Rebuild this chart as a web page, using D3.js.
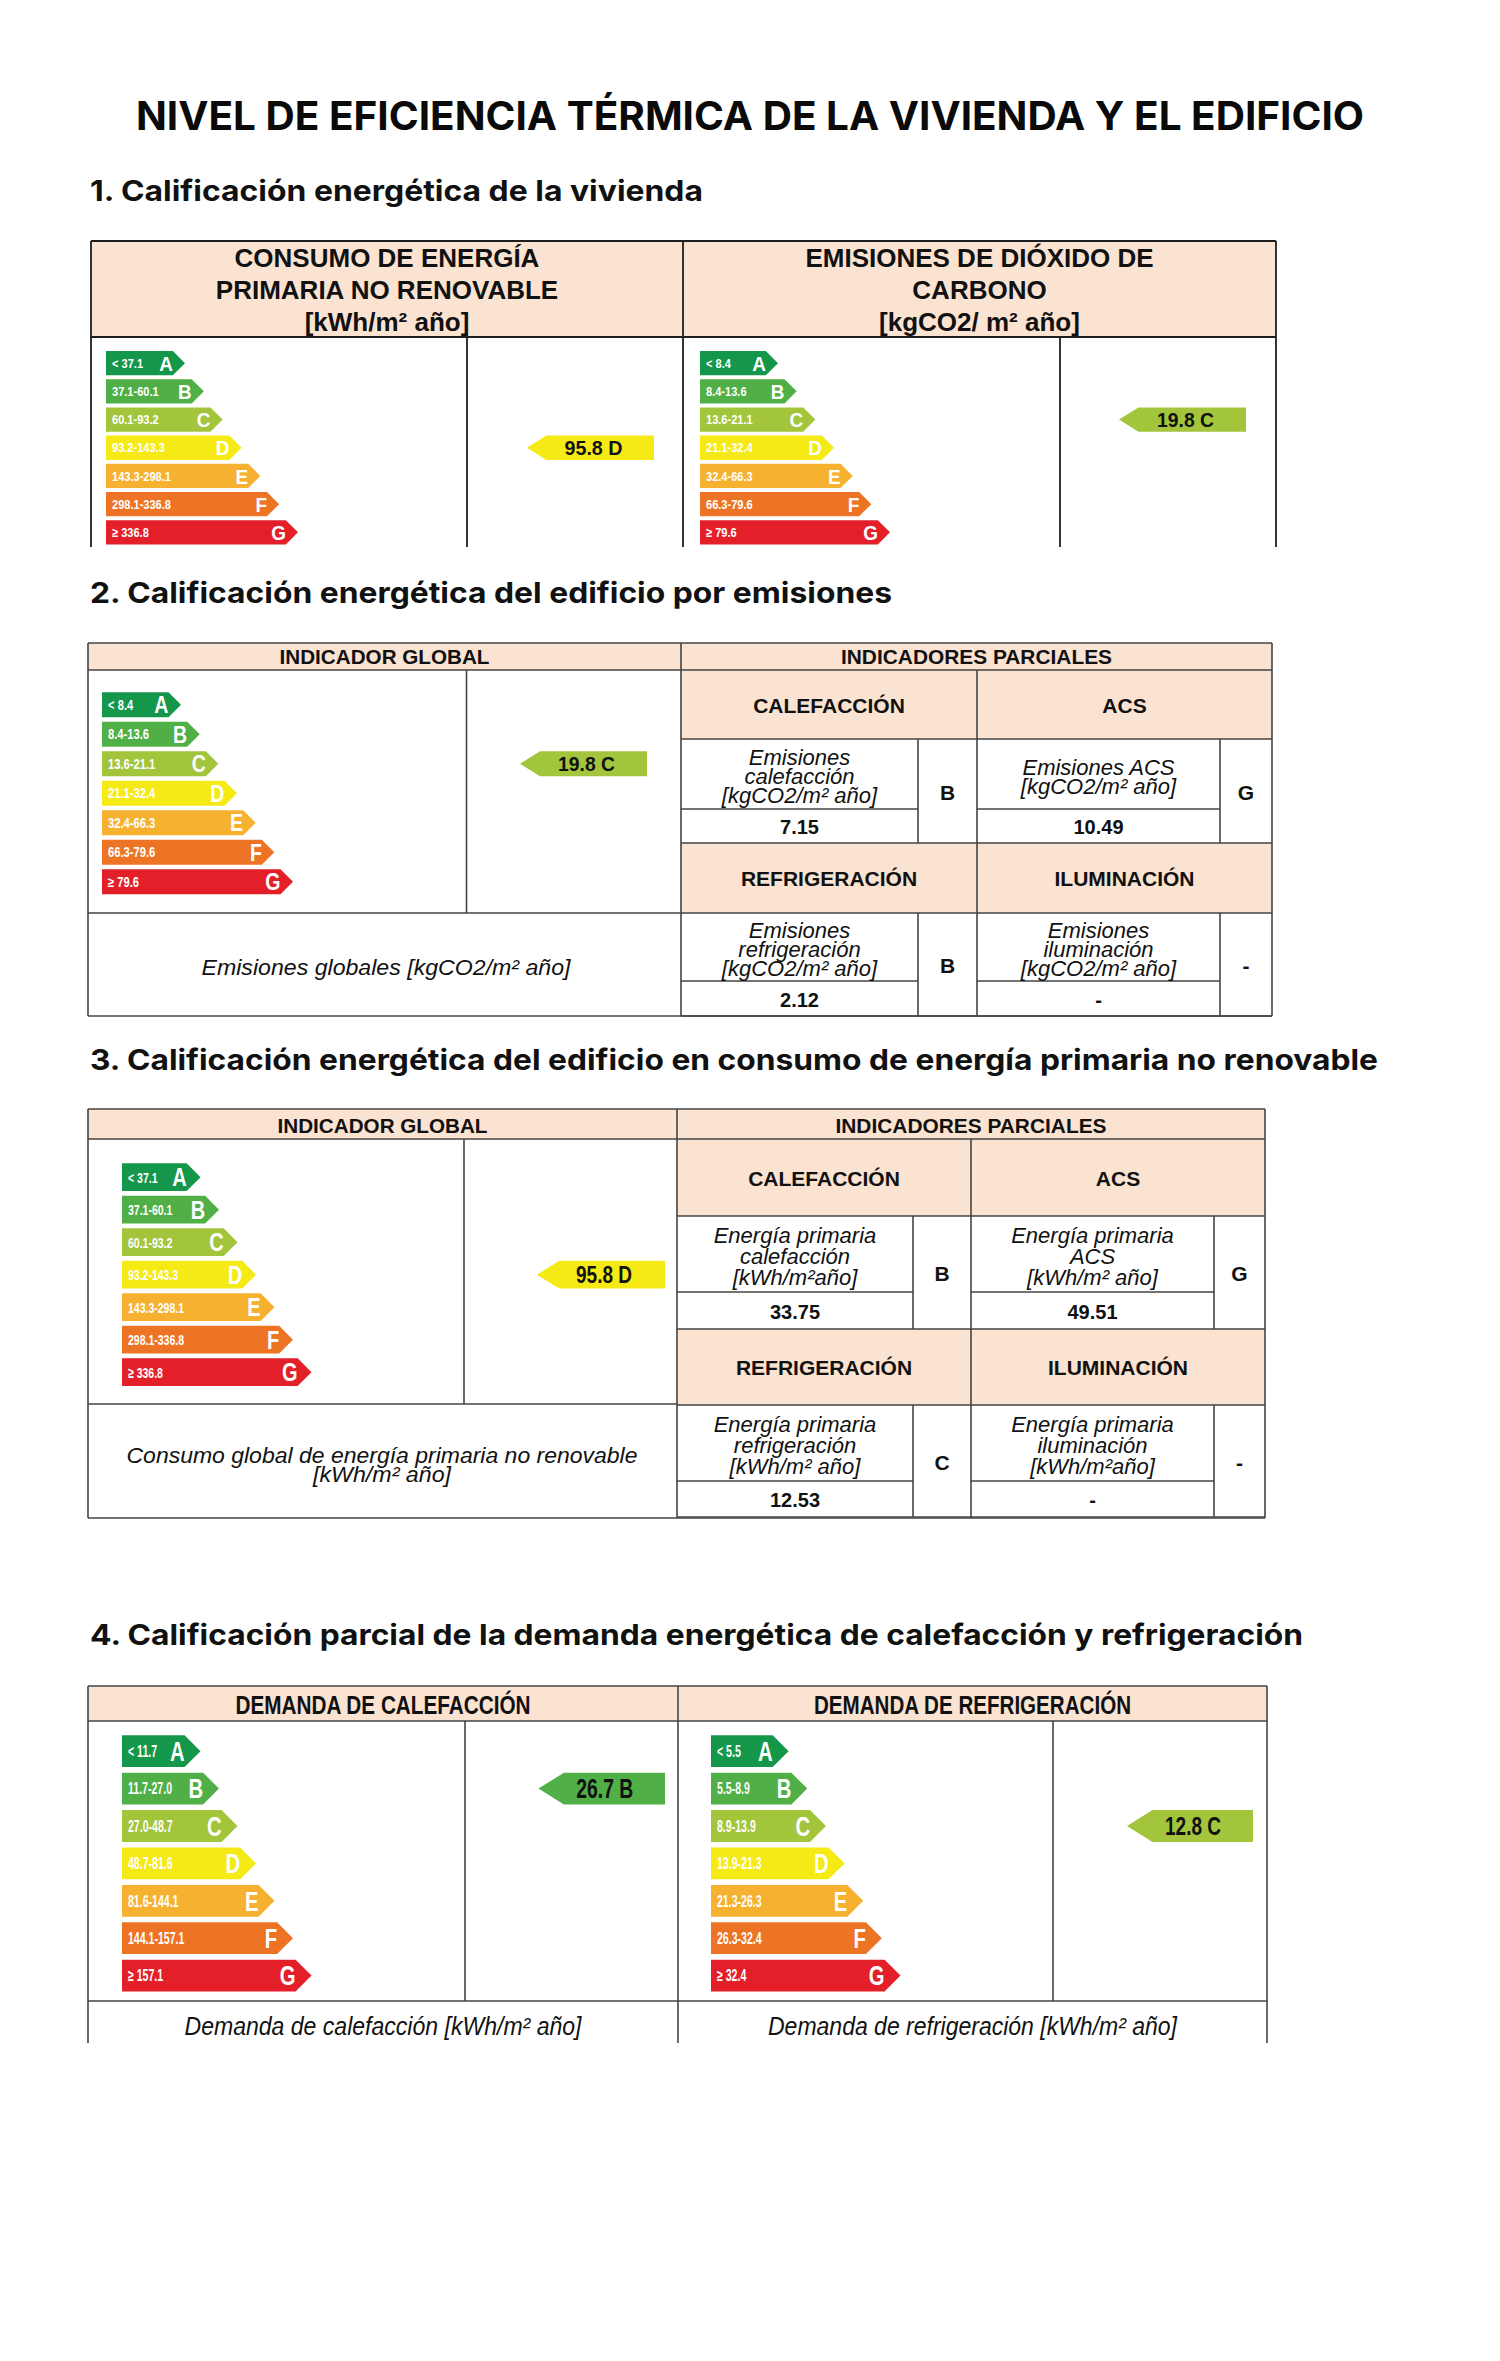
<!DOCTYPE html>
<html><head><meta charset="utf-8">
<script src="https://cdn.jsdelivr.net/npm/d3@7"></script>
<style>html,body{margin:0;padding:0;background:#fff}</style>
</head><body>
<svg id="c" width="1500" height="2361" xmlns="http://www.w3.org/2000/svg"></svg>
<script>
// ---------------- DATA ----------------
const titleText = "NIVEL DE EFICIENCIA TÉRMICA DE LA VIVIENDA Y EL EDIFICIO";
const headings = [
  "1. Calificación energética de la vivienda",
  "2. Calificación energética del edificio por emisiones",
  "3. Calificación energética del edificio en consumo de energía primaria no renovable",
  "4. Calificación parcial de la demanda energética de calefacción y refrigeración"
];
const grades = ["A","B","C","D","E","F","G"];
const gradeColors = ["#14974a","#50af46","#a2c53c","#f5ea16","#f6b131","#ed7424","#e3202a"];
const rangesConsumo = ["< 37.1","37.1-60.1","60.1-93.2","93.2-143.3","143.3-298.1","298.1-336.8","≥ 336.8"];
const rangesEmisiones = ["< 8.4","8.4-13.6","13.6-21.1","21.1-32.4","32.4-66.3","66.3-79.6","≥ 79.6"];
const rangesDemandaCal = ["< 11.7","11.7-27.0","27.0-48.7","48.7-81.6","81.6-144.1","144.1-157.1","≥ 157.1"];
const rangesDemandaRef = ["< 5.5","5.5-8.9","8.9-13.9","13.9-21.3","21.3-26.3","26.3-32.4","≥ 32.4"];

const consumoGlobal = {value: 95.8, grade: "D"};
const emisionesGlobal = {value: 19.8, grade: "C"};
const demandaCal = {value: 26.7, grade: "B"};
const demandaRef = {value: 12.8, grade: "C"};

const headerViviendaConsumo = ["CONSUMO DE ENERGÍA","PRIMARIA NO RENOVABLE","[kWh/m² año]"];
const headerViviendaEmisiones = ["EMISIONES DE DIÓXIDO DE","CARBONO","[kgCO2/ m² año]"];

const parcialNames = ["CALEFACCIÓN","ACS","REFRIGERACIÓN","ILUMINACIÓN"];
const emisionesParcialLabels = [["Emisiones","calefacción","[kgCO2/m² año]"],["Emisiones ACS","[kgCO2/m² año]"],["Emisiones","refrigeración","[kgCO2/m² año]"],["Emisiones","iluminación","[kgCO2/m² año]"]];
const emisionesParcialValues = ["7.15","10.49","2.12","-"];
const emisionesParcialGrades = ["B","G","B","-"];
const consumoParcialLabels = [["Energía primaria","calefacción","[kWh/m²año]"],["Energía primaria","ACS","[kWh/m² año]"],["Energía primaria","refrigeración","[kWh/m² año]"],["Energía primaria","iluminación","[kWh/m²año]"]];
const consumoParcialValues = ["33.75","49.51","12.53","-"];
const consumoParcialGrades = ["B","G","C","-"];

// ---------------- HELPERS ----------------
const svg = d3.select("#c");
const FONT = "'Liberation Sans', Arial, Helvetica, sans-serif";
const PEACH = "#fbe3d2";
const fmt = d3.format(".1f");

function T(g, x, y, s, o = {}) {
  const t = g.append("text").attr("x", x).attr("y", y).text(s)
    .attr("font-family", o.family || FONT)
    .attr("font-size", o.size || 20)
    .attr("font-weight", o.weight || "normal")
    .attr("font-style", o.style || "normal")
    .attr("fill", o.fill || "#111")
    .attr("text-anchor", o.anchor || "middle");
  if (o.w) t.attr("textLength", o.w).attr("lengthAdjust", "spacingAndGlyphs");
  else if (o.k && o.k !== 1) {
    const L = t.node().getComputedTextLength();
    t.attr("textLength", L * o.k).attr("lengthAdjust", "spacingAndGlyphs");
  }
  return t;
}
function L(g, x1, y1, x2, y2, c, w) {
  g.append("line").attr("x1", x1).attr("y1", y1).attr("x2", x2).attr("y2", y2)
    .attr("stroke", c || "#3a3a3a").attr("stroke-width", w || 1.6);
}
function R(g, x, y, w, h, fill) {
  g.append("rect").attr("x", x).attr("y", y).attr("width", w).attr("height", h).attr("fill", fill);
}

function drawScale(g, cfg, ranges) {
  const {x0, tipA, tipG, top, pitch, h, rSize, rK, lSize, lK} = cfg;
  const p = (pitch - h) / pitch;
  const y = d3.scaleBand().domain(grades)
    .range([top - (pitch - h) / 2, top - (pitch - h) / 2 + 7 * pitch])
    .paddingInner(p).paddingOuter(p / 2);
  const xt = d3.scaleLinear().domain([0, 6]).range([tipA, tipG]);
  const d = h * 0.5;
  const rows = grades.map((gr, i) => ({gr, i, range: ranges[i], color: gradeColors[i]}));
  const sel = g.selectAll(null).data(rows).join("g");
  sel.append("path")
    .attr("d", r => { const yy = y(r.gr), tx = xt(r.i);
      return `M${x0},${yy}H${tx - d}L${tx},${yy + h / 2}L${tx - d},${yy + h}H${x0}Z`; })
    .attr("fill", r => r.color);
  sel.each(function (r) {
    const gg = d3.select(this);
    const yy = y(r.gr), tx = xt(r.i);
    T(gg, x0 + 6, yy + h / 2 + rSize * 0.36, r.range, {size: rSize, weight: "bold", fill: "#fff", anchor: "start", k: rK});
    T(gg, tx - d, yy + h / 2 + lSize * 0.36, r.gr, {size: lSize, weight: "bold", fill: "#fff", anchor: "end", k: lK});
  });
  return y;
}
function drawPointer(g, y, rec, tip, right, tsize, tw) {
  const i = grades.indexOf(rec.grade), yy = y(rec.grade), h = y.bandwidth(), d = h * 0.8;
  g.append("path").attr("d", `M${tip},${yy + h / 2}L${tip + d},${yy}H${right}V${yy + h}H${tip + d}Z`)
    .attr("fill", gradeColors[i]);
  T(g, (tip + right) / 2 + 3, yy + h / 2 + tsize * 0.36, `${fmt(rec.value)} ${rec.grade}`,
    {size: tsize, weight: "bold", w: tw});
}

// ---------------- TITLE & HEADINGS ----------------
T(svg, 750, 130, titleText, {family: "Inter, 'Liberation Sans', sans-serif", size: 40, weight: 700, fill: "#0a0a0a", w: 1228});
const headingPos = [{y: 201, w: 613}, {y: 603, w: 802}, {y: 1070, w: 1288}, {y: 1645, w: 1213}];
headings.forEach((h, i) => T(svg, 90, headingPos[i].y, h,
  {family: "Inter, 'Liberation Sans', sans-serif", size: 29, weight: 700, fill: "#111", anchor: "start", w: headingPos[i].w}));

// ---------------- SECTION 1 ----------------
{
  const g = svg.append("g");
  const top = 241, hb = 337, bot = 547, L0 = 91, M = 683, Rr = 1276, i1 = 467, i2 = 1060;
  R(g, L0, top, Rr - L0, hb - top, PEACH);
  const c = "#1e1e1e";
  L(g, L0, top, Rr, top, c, 1.8); L(g, L0, hb, Rr, hb, c, 1.8);
  [L0, M, Rr].forEach(x => L(g, x, top, x, bot, c, 1.8));
  [i1, i2].forEach(x => L(g, x, hb, x, bot, c, 1.8));
  headerViviendaConsumo.forEach((s, k) => T(g, 387, 267 + k * 32, s, {size: 26, weight: "bold"}));
  headerViviendaEmisiones.forEach((s, k) => T(g, 979.5, 267 + k * 32, s, {size: 26, weight: "bold"}));
  const base = {top: 351, pitch: 28.2, h: 24.3, rSize: 13, rK: 0.85, lSize: 21, lK: 0.9};
  const y1 = drawScale(g, Object.assign({x0: 106, tipA: 185, tipG: 298}, base), rangesConsumo);
  drawPointer(g, y1, consumoGlobal, 527, 654, 20, 58);
  const y2 = drawScale(g, Object.assign({x0: 700, tipA: 778, tipG: 890}, base), rangesEmisiones);
  drawPointer(g, y2, emisionesGlobal, 1119, 1246, 20, 57);
}

// ---------------- SECTIONS 2 & 3 ----------------
function drawParcialSection(cfg, ranges, rec, labels, values, pgrades) {
  const g = svg.append("g");
  const c = "#444";
  const {top, hdr, L0, M, Rr, inner, lower, bottom, col, sub1, sub2, rows} = cfg;
  R(g, L0, top, Rr - L0, hdr - top, PEACH);
  rows.forEach(r => R(g, M, r.hTop, Rr - M, r.hBot - r.hTop, PEACH));
  [top, hdr, bottom].forEach(y => L(g, L0, y, Rr, y, c));
  L(g, L0, lower, M, lower, c);
  rows.forEach(r => {
    L(g, M, r.hBot, Rr, r.hBot, c);
    L(g, M, r.bot, Rr, r.bot, c);
    L(g, M, r.labBot, sub1, r.labBot, c);
    L(g, col, r.labBot, sub2, r.labBot, c);
    [sub1, sub2].forEach(x => L(g, x, r.hBot, x, r.bot, c));
  });
  [L0, M, Rr].forEach(x => L(g, x, top, x, bottom, c));
  L(g, inner, hdr, inner, lower, c);
  L(g, col, hdr, col, bottom, c);
  T(g, (L0 + M) / 2, hdr - 6, "INDICADOR GLOBAL", {size: 21, weight: "bold", w: 210});
  T(g, (M + Rr) / 2, hdr - 6, "INDICADORES PARCIALES", {size: 21, weight: "bold", w: 271});
  const y = drawScale(g, cfg.scale, ranges);
  drawPointer(g, y, rec, cfg.ptr.tip, cfg.ptr.right, cfg.ptr.size, cfg.ptr.w);
  cfg.glabel.forEach(gl => T(g, cfg.glabelX, gl.y, gl.s, {size: 22, style: "italic", w: gl.w}));
  rows.forEach((r, ri) => {
    [0, 1].forEach(ci => {
      const idx = ri * 2 + ci;
      const x0 = ci === 0 ? M : col, xs = ci === 0 ? sub1 : sub2, x1 = ci === 0 ? col : Rr;
      T(g, (x0 + x1) / 2, (r.hTop + r.hBot) / 2 + 8, parcialNames[idx], {size: 21, weight: "bold"});
      const lab = labels[idx], n = lab.length, mid = (r.hBot + r.labBot) / 2;
      lab.forEach((s, k) => T(g, (x0 + xs) / 2, mid + 10 + (k - (n - 1) / 2) * cfg.ls, s, {size: 22, style: "italic"}));
      T(g, (x0 + xs) / 2, (r.labBot + r.bot) / 2 + 8, values[idx], {size: 20, weight: "bold"});
      T(g, (xs + x1) / 2, (r.hBot + r.bot) / 2 + 8.5, pgrades[idx], {size: 21, weight: "bold"});
    });
  });
}

drawParcialSection({
  top: 643, hdr: 670, L0: 88, M: 681, Rr: 1272, inner: 466.5, lower: 913, bottom: 1016,
  col: 977, sub1: 918, sub2: 1220, ls: 19,
  rows: [{hTop: 670, hBot: 739, labBot: 809, bot: 843}, {hTop: 843, hBot: 913, labBot: 981, bot: 1016}],
  scale: {x0: 102, tipA: 181, tipG: 293, top: 692.3, pitch: 29.5, h: 25, rSize: 14, rK: 0.8, lSize: 23, lK: 0.85},
  ptr: {tip: 520, right: 647, size: 20, w: 57},
  glabelX: 386, glabel: [{s: "Emisiones globales [kgCO2/m² año]", y: 975, w: 369}]
}, rangesEmisiones, emisionesGlobal, emisionesParcialLabels, emisionesParcialValues, emisionesParcialGrades);

drawParcialSection({
  top: 1109, hdr: 1139, L0: 88, M: 677, Rr: 1265, inner: 464, lower: 1404, bottom: 1518,
  col: 971, sub1: 913, sub2: 1214, ls: 21,
  rows: [{hTop: 1139, hBot: 1216, labBot: 1292, bot: 1329}, {hTop: 1329, hBot: 1405, labBot: 1481, bot: 1517}],
  scale: {x0: 122, tipA: 200.5, tipG: 311.5, top: 1163.3, pitch: 32.5, h: 27.7, rSize: 15, rK: 0.7, lSize: 25, lK: 0.8},
  ptr: {tip: 537, right: 665, size: 23, w: 56},
  glabelX: 382, glabel: [{s: "Consumo global de energía primaria no renovable", y: 1463, w: 511}, {s: "[kWh/m² año]", y: 1482, w: 138}]
}, rangesConsumo, consumoGlobal, consumoParcialLabels, consumoParcialValues, consumoParcialGrades);

// ---------------- SECTION 4 ----------------
{
  const g = svg.append("g");
  const c = "#444";
  const top = 1686, hb = 1721, low = 2001, bot = 2043, L0 = 88, M = 678, Rr = 1267, i1 = 465, i2 = 1053;
  R(g, L0, top, Rr - L0, hb - top, PEACH);
  [top, hb, low].forEach(y => L(g, L0, y, Rr, y, c));
  [L0, M, Rr].forEach(x => L(g, x, top, x, bot, c));
  [i1, i2].forEach(x => L(g, x, hb, x, low, c));
  T(g, (L0 + M) / 2, 1714, "DEMANDA DE CALEFACCIÓN", {size: 26, weight: "bold", w: 295});
  T(g, (M + Rr) / 2, 1714, "DEMANDA DE REFRIGERACIÓN", {size: 26, weight: "bold", w: 317});
  const base = {top: 1735.3, pitch: 37.4, h: 31.8, rSize: 16, rK: 0.66, lSize: 27, lK: 0.75};
  const y1 = drawScale(g, Object.assign({x0: 122, tipA: 200.5, tipG: 311.5}, base), rangesDemandaCal);
  drawPointer(g, y1, demandaCal, 538.5, 665, 27, 57);
  const y2 = drawScale(g, Object.assign({x0: 711, tipA: 788.6, tipG: 900.5}, base), rangesDemandaRef);
  drawPointer(g, y2, demandaRef, 1127, 1253, 25, 56);
  T(g, (L0 + M) / 2, 2035, "Demanda de calefacción [kWh/m² año]", {size: 25, style: "italic", w: 397});
  T(g, (M + Rr) / 2, 2035, "Demanda de refrigeración [kWh/m² año]", {size: 25, style: "italic", w: 409});
}
</script>
</body></html>
